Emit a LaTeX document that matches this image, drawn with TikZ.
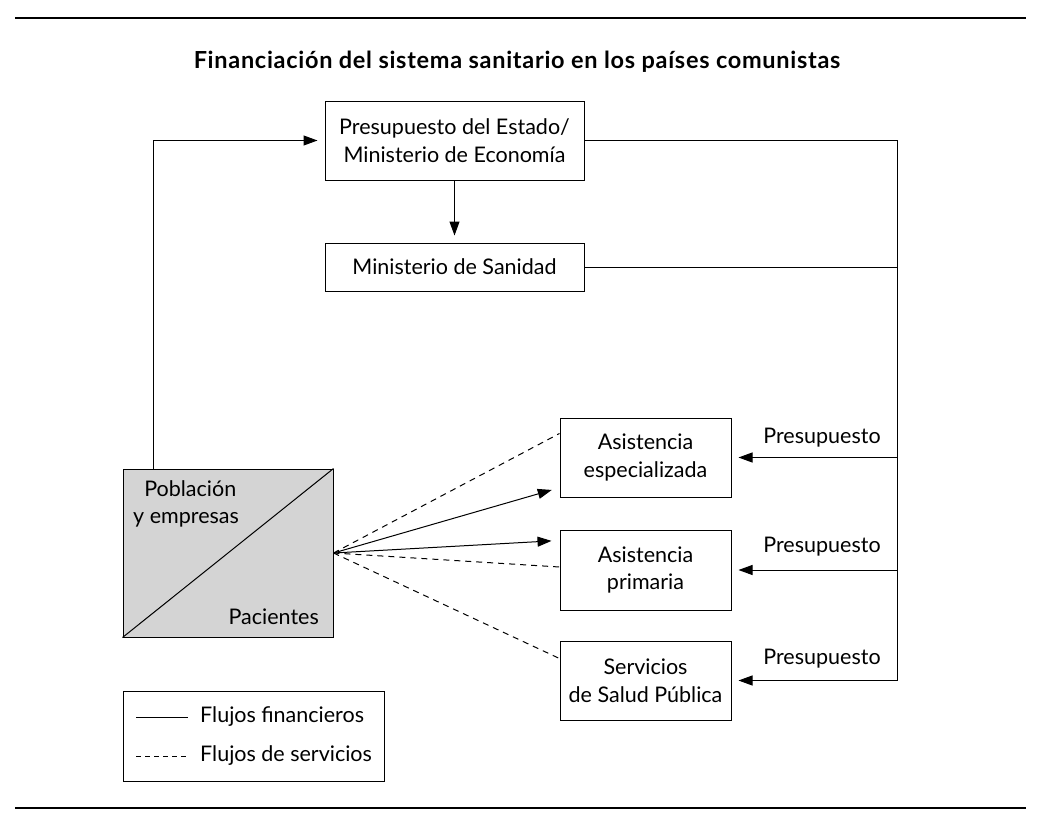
\documentclass[tikz,border=0pt]{standalone}
\usepackage{fontspec}
\setmainfont{Lato}
\usetikzlibrary{arrows.meta,calc}
\tikzset{
  box/.style={draw, line width=1pt, align=center, inner sep=0pt, font=\fontsize{21.5}{27.5}\selectfont},
  fin/.style={line width=1pt},
  arr/.style={line width=1pt, -{Triangle[length=14pt,width=10pt]}, shorten >=7pt},
  serv/.style={line width=1pt, dash pattern=on 6pt off 5pt},
  lbl/.style={font=\fontsize{21.5}{27.5}\selectfont, inner sep=0pt}
}
\begin{document}
\begin{tikzpicture}[x=1pt,y=-1pt]
\useasboundingbox (0,0) rectangle (1037,819);
\coordinate (rl1) at (15,18); \coordinate (rr1) at (1026,18);
\coordinate (rl2) at (15,808); \coordinate (rr2) at (1026,808);
\draw[line width=1.4pt] (rl1) -- (rr1);
\draw[line width=1.4pt] (rl2) -- (rr2);
\node[font=\bfseries\fontsize{23.5}{28}\selectfont\addfontfeatures{LetterSpace=3}, inner sep=0pt] (title) at (517,62) {Financiación del sistema sanitario en los países comunistas};

\node[box, minimum width=259pt, minimum height=79pt] (pe) at (454.5,140.5) {Presupuesto del Estado/\\Ministerio de Economía};
\node[box, minimum width=259pt, minimum height=48pt] (ms) at (454.5,267) {Ministerio de Sanidad};
\node[box, minimum width=171pt, minimum height=79pt] (ae) at (645.5,457.5) {Asistencia\\especializada};
\node[box, minimum width=171pt, minimum height=80pt] (ap) at (645.5,570) {Asistencia\\primaria};
\node[box, minimum width=171pt, minimum height=79pt] (sp) at (645.5,680.5) {Servicios\\de Salud Pública};

\node[draw, line width=1pt, fill=black!17, minimum width=210pt, minimum height=168pt, inner sep=0pt] (pop) at (228,553) {};
\draw[fin] (pop.south west) -- (pop.north east);
\node[lbl, align=left, anchor=north west] (pob) at (133,480) {\phantom{y}Población\\y empresas};
\node[lbl, anchor=east] (pac) at (319,617) {Pacientes};

% left feedback line
\coordinate (lt) at (153,140.5);
\draw[arr] ([xshift=-75pt]pop.north) -- (lt) -- (pe.west);
% down arrow
\draw[arr] (pe.south) -- (ms.north);
% right bus
\coordinate (busT) at (897,140.5);
\coordinate (busB) at (897,681);
\draw[fin] (pe.east) -- (busT) -- (busB);
\draw[fin] (ms.east) -- (ms.east -| busT);
\draw[arr] (busT |- ae.east) -- (ae.east);
\draw[arr] (busT |- ap.east) -- (ap.east);
\draw[arr] (busT |- sp.east) -- (sp.east);
\node[lbl] (p1) at (822,438) {Presupuesto};
\node[lbl] (p2) at (822,547) {Presupuesto};
\node[lbl] (p3) at (822,659) {Presupuesto};

% fan
\coordinate (ae1) at (558.5,488);
\coordinate (ap1) at (558.5,540.5);
\draw[arr] (pop.east) -- (ae1);
\draw[arr] (pop.east) -- (ap1);
\draw[serv] (pop.east) -- ($(ae.west)+(0,-24)$);
\draw[serv] (pop.east) -- ($(ap.west)+(0,-3)$);
\draw[serv] (pop.east) -- ($(sp.west)+(0,-22)$);

% legend
\node[draw, line width=1pt, minimum width=261pt, minimum height=90pt, inner sep=0pt] (leg) at (253.5,736) {};
\coordinate (l1a) at (136,717); \coordinate (l1b) at (188,717);
\coordinate (l2a) at (136,756); \coordinate (l2b) at (188,756);
\draw[fin] (l1a) -- (l1b);
\draw[serv, dash pattern=on 5pt off 4pt] (l2a) -- (l2b);
\node[lbl, anchor=west] (lt1) at (200,717) {Flujos financieros};
\node[lbl, anchor=west] (lt2) at (200,756) {Flujos de servicios};
\end{tikzpicture}
\end{document}
